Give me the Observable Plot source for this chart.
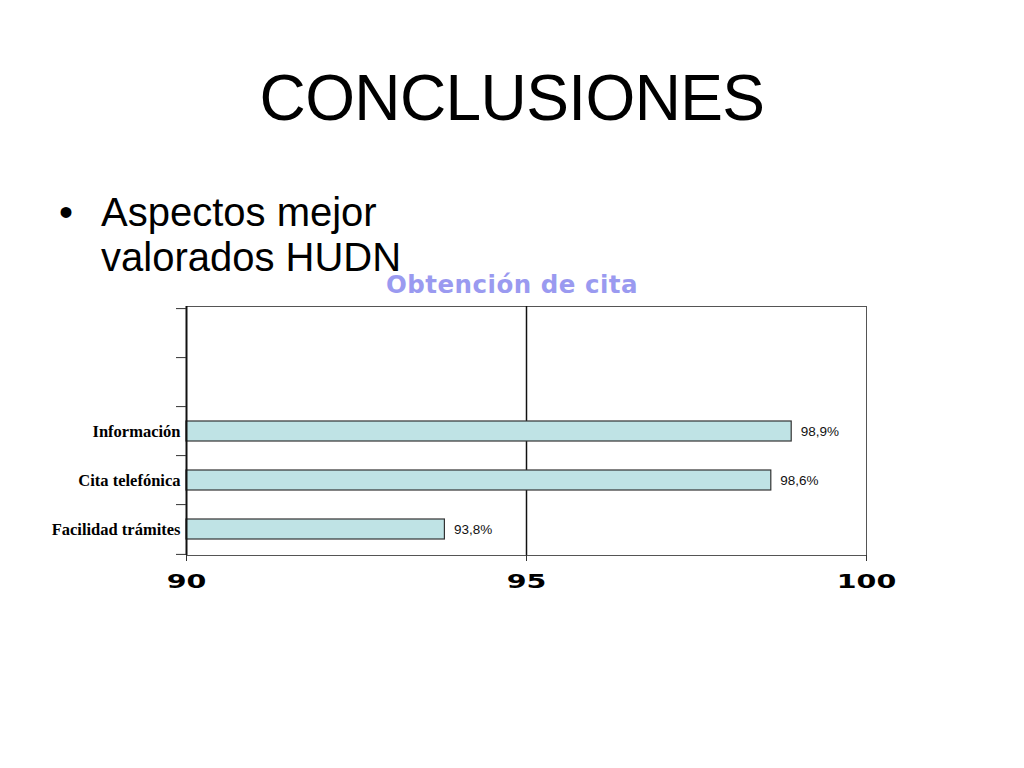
<!DOCTYPE html>
<html>
<head>
<meta charset="utf-8">
<script src="https://cdn.jsdelivr.net/npm/d3@7"></script>
<script src="https://cdn.jsdelivr.net/npm/@observablehq/plot@0.6"></script>
<style>
  html, body { margin: 0; padding: 0; background: #fff; }
  body { width: 1024px; height: 768px; position: relative; overflow: hidden; }
  .title { position: absolute; left: 0; width: 1024px; top: 66px; text-align: center;
    font-family: "Liberation Sans", Arial, sans-serif; font-size: 64px; line-height: 64px; color: #000; letter-spacing: -0.6px; }
  .bullet { position: absolute; left: 101px; top: 190px; font-family: "Liberation Sans", Arial, sans-serif;
    font-size: 40px; line-height: 45px; color: #000; }
  .bullet .dot { position: absolute; left: -42px; top: 0; }
  .subtitle { position: absolute; left: 0; width: 1024px; top: 273px; text-align: center; padding-left: 0px;
    font-family: "DejaVu Sans", Verdana, sans-serif; font-weight: bold; font-size: 24.5px; line-height: 24px; color: #9a9af0; letter-spacing: 0.5px; }
  #chart { position: absolute; left: 0; top: 300px; }
</style>
</head>
<body>
<div class="title">CONCLUSIONES</div>
<div class="bullet"><span class="dot">•</span>Aspectos mejor<br>valorados HUDN</div>
<div class="subtitle">Obtención de cita</div>
<div id="chart"></div>
<script>
const categories = ["Información", "Cita telefónica", "Facilidad trámites"];
const values = [98.9, 98.6, 93.8];
const valueLabels = ["98,9%", "98,6%", "93,8%"];
const emptySlots = ["\u2002a", "\u2002b"];
const xTicks = [90, 95, 100];
const gridValues = [95];

const data = categories.map((c, i) => ({category: c, value: values[i], label: valueLabels[i]}));
const yDomain = [...emptySlots, ...categories];

const chart = Plot.plot({
  width: 1024,
  height: 300,
  marginTop: 6,
  marginBottom: 45,
  marginLeft: 186,
  marginRight: 158,
  x: {domain: [xTicks[0], xTicks[xTicks.length - 1]], axis: null, label: null},
  y: {domain: yDomain, paddingInner: 0.6, paddingOuter: 0.3, axis: null, label: null},
  marks: [
    Plot.frame({stroke: "#555", strokeWidth: 1}),
    Plot.ruleX(gridValues, {stroke: "#111", strokeWidth: 1.5}),
    Plot.barX(data, {y: "category", x1: () => xTicks[0], x2: "value", fill: "#bfe3e5", stroke: "#333", strokeWidth: 1.2}),
    Plot.text(data, {y: "category", x: "value", text: "label", textAnchor: "start", dx: 9,
      fontFamily: "Liberation Sans, Arial, sans-serif", fontSize: 13.5, fill: "#111"}),
    Plot.ruleX([xTicks[0]], {stroke: "#111", strokeWidth: 2}),
    Plot.axisY({ticks: yDomain, text: null, label: null, tickSize: 10, dy: -24.9, stroke: "#333"}),
    Plot.axisY({ticks: [categories[categories.length - 1]], text: null, label: null, tickSize: 10, dy: 24.9, stroke: "#333"}),
    Plot.axisY({ticks: categories, label: null, tickSize: 0, tickPadding: 6,
      fontFamily: "Liberation Serif, 'Times New Roman', serif", fontSize: 16.5, fontWeight: "bold", fill: "#000"}),
    Plot.axisX({ticks: xTicks, label: null, tickSize: 6, tickPadding: 13, stroke: "#333",
      fontFamily: "DejaVu Sans, Verdana, sans-serif", fontSize: 19, fontWeight: "bold", fill: "#000",
      tickFormat: d => String(d)})
  ]
});

// widen the x tick numerals like the original's extended face
chart.querySelectorAll('g[aria-label="x-axis tick label"] text').forEach(t => {
  const tr = t.getAttribute("transform") || "";
  t.setAttribute("transform", tr + " scale(1.5,1)");
});

document.getElementById("chart").appendChild(chart);
</script>
</body>
</html>
